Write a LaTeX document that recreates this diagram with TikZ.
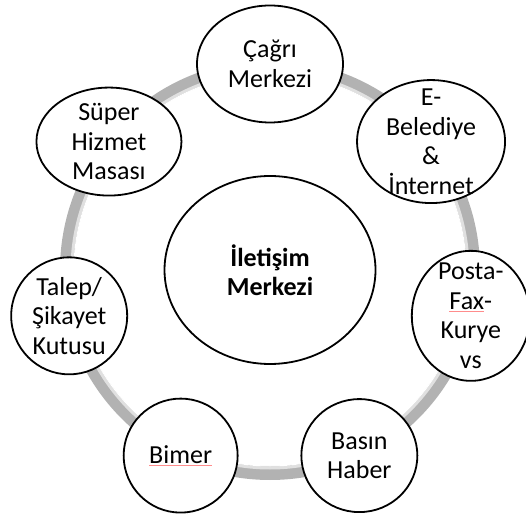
\documentclass[tikz,border=0pt]{standalone}
\usepackage{fontspec}
\setmainfont{Carlito}
\usetikzlibrary{shapes.geometric}
\newcommand{\spellmark}[1]{\setbox0\hbox{#1}\rlap{\color{red!45}\rule[-2.5pt]{\wd0}{0.8pt}}\box0}

\begin{document}
\begin{tikzpicture}[x=1pt,y=1pt,
		bubble/.style={draw=black, line width=1.8pt, fill=white, ellipse, inner sep=0pt},
		bubbletext/.style={align=center, inner sep=0pt, font=\fontsize{26}{29.5}\selectfont}]
	\useasboundingbox (0,0) rectangle (526,521);
	\begin{scope}[shift={(270,251)}]
		% ring behind the bubbles
		\draw[black!30, line width=14pt] (0,0) circle (203);
		\draw[black!12, line width=3pt] (0,0) circle (198);
		\draw[white, line width=1pt] (0,0) circle (196);

		\node[bubble, minimum width=211, minimum height=188] (hub) at (0,0) {};
		\node[bubbletext, font=\fontsize{26}{29.5}\selectfont\bfseries] (hub-t) at (hub) {İletişim\\Merkezi};

		\node[bubble, minimum width=146, minimum height=117] (cagri) at (90:206) {};
		\node[bubbletext] (cagri-t) at (cagri) {Çağrı\\Merkezi};

		\node[bubble, minimum width=148, minimum height=123] (ebel) at (38.57:206) {};
		\node[bubbletext] (ebel-t) at (ebel) {E-\\Belediye\\\&\\İnternet};

		\node[bubble, minimum width=118, minimum height=130] (posta) at (-12.86:206) {};
		\node[bubbletext] (posta-t) at (posta) {Posta-\\\spellmark{Fax}-\\Kurye\\vs};

		\node[bubble, minimum width=116, minimum height=113] (basin) at (-64.29:206) {};
		\node[bubbletext] (basin-t) at (basin) {Basın\\Haber};

		\node[bubble, minimum width=114, minimum height=114] (bimer) at (-115.71:206) {};
		\node[bubbletext] (bimer-t) at (bimer) {\spellmark{Bimer}};

		\node[bubble, minimum width=116, minimum height=117] (talep) at (-167.14:206) {};
		\node[bubbletext] (talep-t) at (talep) {Talep/\\Şikayet\\Kutusu};

		\node[bubble, minimum width=145, minimum height=108] (super) at (141.43:206) {};
		\node[bubbletext] (super-t) at (super) {Süper\\Hizmet\\Masası};
	\end{scope}
\end{tikzpicture}
\end{document}
